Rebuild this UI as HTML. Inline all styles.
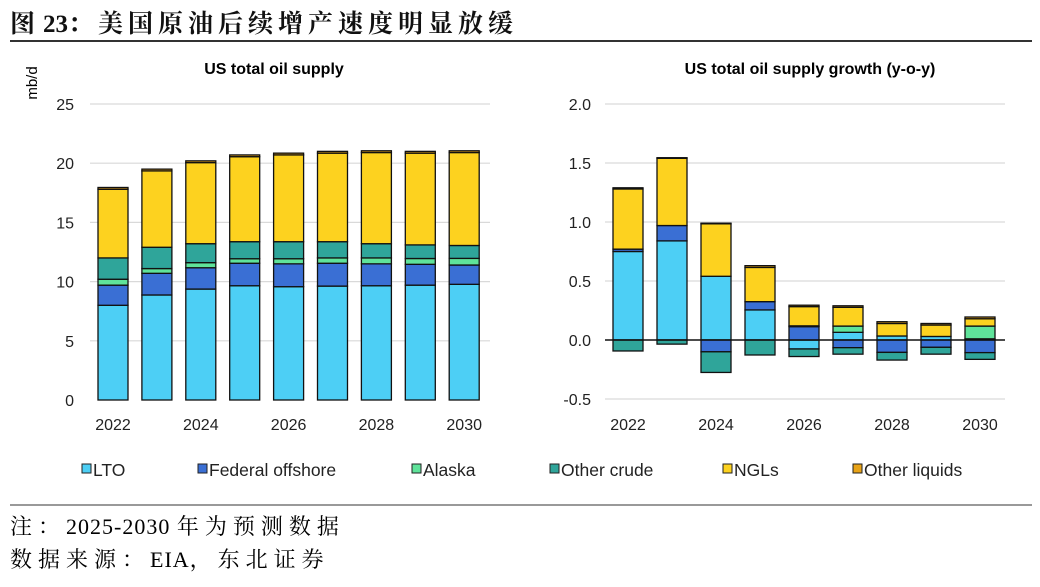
<!DOCTYPE html>
<html><head><meta charset="utf-8"><style>
body{margin:0;background:#fff;width:1040px;height:582px;overflow:hidden;font-family:"Liberation Sans",Arial,sans-serif}
svg text{font-family:"Liberation Sans",Arial,sans-serif}
</style></head><body>
<svg id="c" width="1040" height="582" xmlns="http://www.w3.org/2000/svg">
<text x="10" y="32" font-size="25" font-weight="bold" fill="#111" style="font-family:'Liberation Serif','Noto Serif CJK SC',serif"><tspan letter-spacing="8">图</tspan><tspan letter-spacing="0">23</tspan><tspan letter-spacing="5">：美国原油后续增产速度明显放缓</tspan></text>
<line x1="10" y1="41" x2="1032" y2="41" stroke="#333" stroke-width="2"/>
<text x="274" y="74" font-size="16" font-weight="bold" text-anchor="middle">US total oil supply</text>
<text x="810" y="74" font-size="16" font-weight="bold" text-anchor="middle">US total oil supply growth (y-o-y)</text>
<text transform="translate(37,83) rotate(-90)" font-size="15" text-anchor="middle">mb/d</text>
<g id="left"></g><g id="right"></g><g id="legend"></g>
<line x1="10" y1="505" x2="1032" y2="505" stroke="#333" stroke-width="1"/>
<text x="10" y="534" font-size="22" style="font-family:'Liberation Serif','Noto Serif CJK SC',serif"><tspan letter-spacing="6">注：</tspan><tspan letter-spacing="1">2025-2030 </tspan><tspan letter-spacing="6">年为预测数据</tspan></text>
<text x="10" y="567" font-size="22" style="font-family:'Liberation Serif','Noto Serif CJK SC',serif"><tspan letter-spacing="6">数据来源：</tspan><tspan letter-spacing="1">EIA</tspan><tspan letter-spacing="6">，东北证券</tspan></text>
</svg>
<script>
const years=["2022","2023","2024","2025","2026","2027","2028","2029","2030"];
const seriesNames=["LTO","Federal offshore","Alaska","Other crude","NGLs","Other liquids"];
const colors=["#4dcff5","#3a6fd4","#5fe39a","#2fa59a","#fdd21f","#e8a317"];
const lto=[8.0,8.87,9.37,9.65,9.57,9.62,9.65,9.7,9.77];
const fed=[1.7,1.83,1.8,1.9,1.93,1.93,1.85,1.76,1.63];
const alaska=[0.5,0.4,0.43,0.38,0.43,0.45,0.5,0.49,0.56];
const otherCrude=[1.8,1.8,1.6,1.44,1.44,1.37,1.2,1.15,1.09];
const ngl=[5.8,6.45,6.85,7.18,7.33,7.48,7.7,7.75,7.85];
const otherLiq=[0.15,0.15,0.15,0.15,0.15,0.15,0.15,0.15,0.15];
const gLto=[0.75,0.84,0.54,0.255,-0.076,0.065,0.034,0.03,0.01];
const gFed=[0.02,0.13,-0.1,0.07,0.113,-0.065,-0.105,-0.062,-0.107];
const gAlaska=[0,0,0,0,0.007,0.053,0,0,0.108];
const gOtherCrude=[-0.093,-0.035,-0.175,-0.127,-0.064,-0.055,-0.065,-0.058,-0.057];
const gNgl=[0.51,0.57,0.445,0.29,0.163,0.159,0.106,0.097,0.062];
const gOtherLiq=[0.01,0.005,0.005,0.015,0.012,0.013,0.015,0.013,0.015];
const leftTicks=[0,5,10,15,20,25];
const rightTicks=[-0.5,0,0.5,1.0,1.5,2.0];
const NS="http://www.w3.org/2000/svg";
function mk(p,t,a){const e=document.createElementNS(NS,t);for(const k in a)e.setAttribute(k,a[k]);p.appendChild(e);return e;}
function chart(g,series,ticks,opt){
  const y=v=>opt.y0+(v-opt.vmin)*(opt.y1-opt.y0)/(opt.vmax-opt.vmin);
  ticks.forEach(t=>{
    if(t!==0||opt.gridZero){const l=mk(g,'line',{x1:opt.gx0,x2:opt.gx1,y1:y(t),y2:y(t),stroke:'#d9d9d9','stroke-width':1.2});
    
    }
    const tx=mk(g,'text',{x:opt.tx,y:y(t)+6,'font-size':16,'text-anchor':'end',fill:'#222'});
    tx.textContent=opt.fmt(t);
    
    
  });
  const x=i=>opt.xc0+i*opt.step;
  years.forEach((yr,i)=>{
    let pos=0,neg=0;
    series.forEach((s,k)=>{
      const v=s[i];if(!v)return;
      let a,b;if(v>0){a=pos;b=pos+v;pos=b;}else{a=neg;b=neg+v;neg=b;}
      const top=Math.min(y(a),y(b)),h=Math.abs(y(b)-y(a));
      const r=mk(g,'rect',{x:x(i)-15,y:top,width:30,height:h,fill:colors[k],stroke:'#111','stroke-width':1.3});
      
      
    });
    if(i%2===0){const t=mk(g,'text',{x:x(i),y:430,'font-size':16,'text-anchor':'middle',fill:'#222'});
    t.textContent=yr;
    
    }
  });
  if(opt.zeroLine){const z=mk(g,'line',{x1:opt.gx0,x2:opt.gx1,y1:y(0),y2:y(0),stroke:'#111','stroke-width':1.5});
  
  }
}
chart(document.getElementById('left'),[lto,fed,alaska,otherCrude,ngl,otherLiq],leftTicks,
 {y0:400,y1:104,vmin:0,vmax:25,gx0:90,gx1:490,tx:74,xc0:113,step:43.9,fmt:v=>String(v),gridZero:false,zeroLine:false});
chart(document.getElementById('right'),[gLto,gFed,gAlaska,gOtherCrude,gNgl,gOtherLiq],rightTicks,
 {y0:399,y1:104,vmin:-0.5,vmax:2.0,gx0:605,gx1:1005,tx:591,xc0:628,step:44,fmt:v=>v.toFixed(1),gridZero:false,zeroLine:true});
const lg=document.getElementById('legend');
const lx=[82,198,412,550,723,853];
seriesNames.forEach((n,k)=>{
  const r=mk(lg,'rect',{x:lx[k],y:464,width:9,height:9,fill:colors[k],stroke:'#222','stroke-width':1});
  
  
  const t=mk(lg,'text',{x:lx[k]+11,y:476,'font-size':17.5,fill:'#222'});
  t.textContent=n;
  
  
});
</script>
</body></html>
